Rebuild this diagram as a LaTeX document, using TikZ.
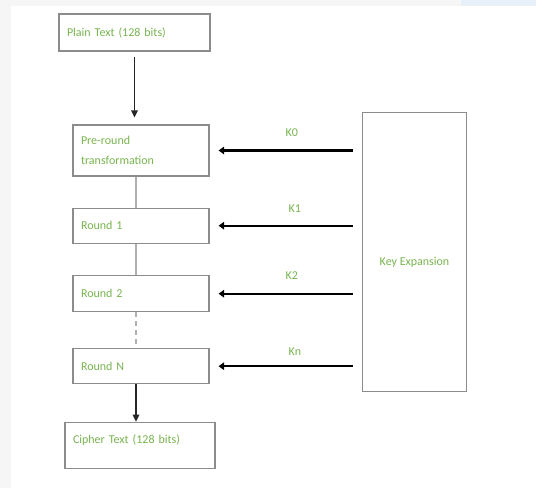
\documentclass[tikz,border=0pt]{standalone}
\usepackage{fontspec}
\setmainfont{Carlito}
\usetikzlibrary{arrows.meta}
\definecolor{txtgreen}{RGB}{120,180,80}
\definecolor{boxgray}{RGB}{140,140,140}
\definecolor{linkgray}{RGB}{175,175,175}
\definecolor{pagegray}{RGB}{246,246,246}
\definecolor{tabblue}{RGB}{232,240,250}
\tikzset{
  box/.style={draw=boxgray, line width=1.2pt, fill=white, inner xsep=8pt,
    align=left, text=txtgreen, font=\fontsize{12}{14.4}\selectfont},
  keybox/.style={draw=boxgray, line width=1.2pt, fill=white,
    text=txtgreen, font=\fontsize{12}{14.4}\selectfont},
  flow/.style={draw=black!85, line width=1.4pt,
    -{Triangle[length=7pt,width=6.5pt]}},
  link/.style={draw=linkgray, line width=1.2pt},
  dashlink/.style={draw=linkgray, line width=1.2pt, dash pattern=on 5pt off 4pt},
  karrow/.style={draw=black, line width=2.4pt,
    -{Triangle[length=5.5pt,width=7.5pt]}, shorten <=9pt, shorten >=9pt},
  klabel/.style={text=txtgreen, font=\fontsize{12}{14.4}\selectfont, inner sep=0pt}
}
\begin{document}
\begin{tikzpicture}[x=1pt,y=-1pt]
  % page and frame
  \fill[pagegray] (0,0) rectangle (536,488);
  \fill[white] (11,6) rectangle (536,488);
  \fill[tabblue] (461,0) rectangle (536,5.7);
  \useasboundingbox (0,0) rectangle (536,488);

  % cipher stages
  \node[box, text width=135pt, minimum height=37pt] (plain) at (134.5,32.5) {Plain Text (128 bits)};
  \node[box, text width=120pt, minimum height=51pt,
    font=\fontsize{12}{20.4}\selectfont] (pre) at (141,150.5) {Pre-round\\transformation};
  \node[box, text width=120pt, minimum height=35pt] (r1) at (141,225.7) {Round 1};
  \node[box, text width=120pt, minimum height=36pt] (r2) at (141,293.7) {Round 2};
  \node[box, text width=120pt, minimum height=35pt] (rn) at (141,366.2) {Round N};
  \node[box, text width=134pt, minimum height=46pt,
    text height=9pt, text depth=12pt] (cipher) at (140,445.3) {Cipher Text (128 bits)};

  % key schedule
  \node[keybox, minimum width=104pt, minimum height=279pt,
    text height=30pt, text depth=3pt] (key) at (414.5,252) {Key Expansion};

  % data path
  \draw[flow, shorten <=5pt, shorten >=7pt] (plain.south) -- (plain.south |- pre.north);
  \draw[link] ([xshift=-5pt]pre.south) -- ([xshift=-5pt]r1.north);
  \draw[link] ([xshift=-5pt]r1.south) -- ([xshift=-5pt]r2.north);
  \draw[dashlink] ([xshift=-5pt]r2.south) -- ([xshift=-5pt]rn.north);
  \draw[flow] ([xshift=-5pt]rn.south) -- ([xshift=-4pt]cipher.north);

  % round keys
  \draw[karrow] (key.west |- pre.east) -- node[klabel, pos=0.46, yshift=18pt] (k0) {K0} (pre.east);
  \draw[karrow] (key.west |- r1.east) -- node[klabel, pos=0.44, yshift=17.5pt] (k1) {K1} (r1.east);
  \draw[karrow] (key.west |- r2.east) -- node[klabel, pos=0.46, yshift=18pt] (k2) {K2} (r2.east);
  \draw[karrow] (key.west |- rn.east) -- node[klabel, pos=0.44, yshift=15pt] (kn) {Kn} (rn.east);
\end{tikzpicture}
\end{document}
